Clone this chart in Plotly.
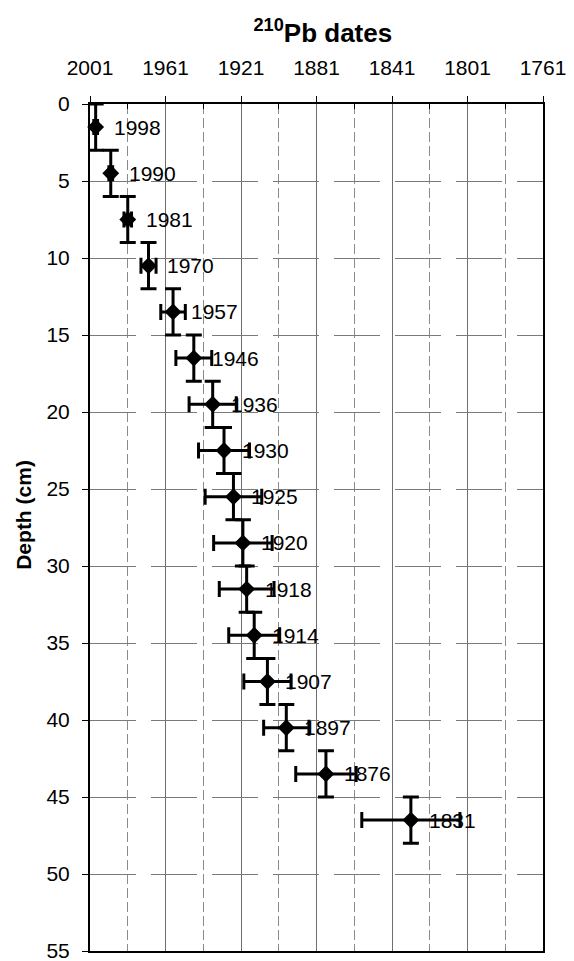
import plotly.graph_objects as go

# 210Pb age-depth profile
depth_cm = [1.5, 4.5, 7.5, 10.5, 13.5, 16.5, 19.5, 22.5,
            25.5, 28.5, 31.5, 34.5, 37.5, 40.5, 43.5, 46.5]
year = [1998, 1990, 1981, 1970, 1957, 1946, 1936, 1930,
        1925, 1920, 1918, 1914, 1907, 1897, 1876, 1831]
year_err = [1, 1, 2, 4, 6.5, 9.5, 12.5, 13.5,
            15, 15.5, 14.5, 13.5, 12.5, 12, 16, 26]
depth_err = [1.5] * len(depth_cm)

x_ticks = [2001, 1961, 1921, 1881, 1841, 1801, 1761]
y_ticks = [0, 5, 10, 15, 20, 25, 30, 35, 40, 45, 50, 55]

FONT = "Liberation Sans, Arial, sans-serif"

fig = go.Figure()
fig.add_trace(go.Scatter(
    x=year, y=depth_cm, mode="markers",
    marker=dict(symbol="diamond", size=13, color="black"),
    error_x=dict(type="data", array=year_err, color="black", thickness=3, width=8),
    error_y=dict(type="data", array=depth_err, color="black", thickness=3, width=8),
    showlegend=False, cliponaxis=False,
))

annotations = []
for yr, d in zip(year, depth_cm):
    annotations.append(dict(
        x=yr, y=d, xref="x", yref="y", text=str(yr), showarrow=False,
        xanchor="left", yanchor="middle", xshift=16,
        font=dict(family=FONT, size=21, color="black"),
    ))
annotations.append(dict(
    x=0, y=0.515, xref="paper", yref="paper", text="<b>Depth (cm)</b>",
    showarrow=False, textangle=-90, xanchor="center", yanchor="middle",
    xshift=-66, font=dict(family=FONT, size=21, color="black"),
))

fig.update_layout(
    width=574, height=961,
    margin=dict(l=90, r=31, t=104, b=10),
    paper_bgcolor="white", plot_bgcolor="white",
    title=dict(text="<b><sup>210</sup>Pb dates</b>", x=0.514, xref="paper",
               y=0.966, yref="container", xanchor="center", yanchor="middle",
               font=dict(family=FONT, size=26, color="black")),
    annotations=annotations,
    font=dict(family=FONT, size=21, color="black"),
)

fig.update_xaxes(
    range=[2001, 1761], side="top", tickmode="array", tickvals=x_ticks,
    ticktext=[str(v) for v in x_ticks],
    ticks="outside", ticklen=6, tickwidth=1, tickcolor="black",
    ticklabelstandoff=13, automargin=False,
    showline=True, linecolor="black", linewidth=2, mirror=True,
    showgrid=True, gridcolor="#6e6e6e", gridwidth=1,
    minor=dict(tickvals=[1981, 1941, 1901, 1861, 1821, 1781], showgrid=True,
               gridcolor="#8a8a8a", griddash="10px,4px", gridwidth=1,
               ticks="inside", ticklen=5, tickcolor="black"),
    zeroline=False, tickfont=dict(family=FONT, size=21, color="black"),
)
fig.update_yaxes(
    range=[55, 0], tickmode="array", tickvals=y_ticks,
    ticks="outside", ticklen=6, tickwidth=1, tickcolor="black",
    ticklabelstandoff=8, ticklabeloverflow="allow", automargin=False,
    showline=True, linecolor="black", linewidth=2, mirror=True,
    showgrid=True, gridcolor="#7a7a7a", gridwidth=1, griddash="46px,15px",
    zeroline=False, tickfont=dict(family=FONT, size=21, color="black"),
)

fig.write_html("out.html")
